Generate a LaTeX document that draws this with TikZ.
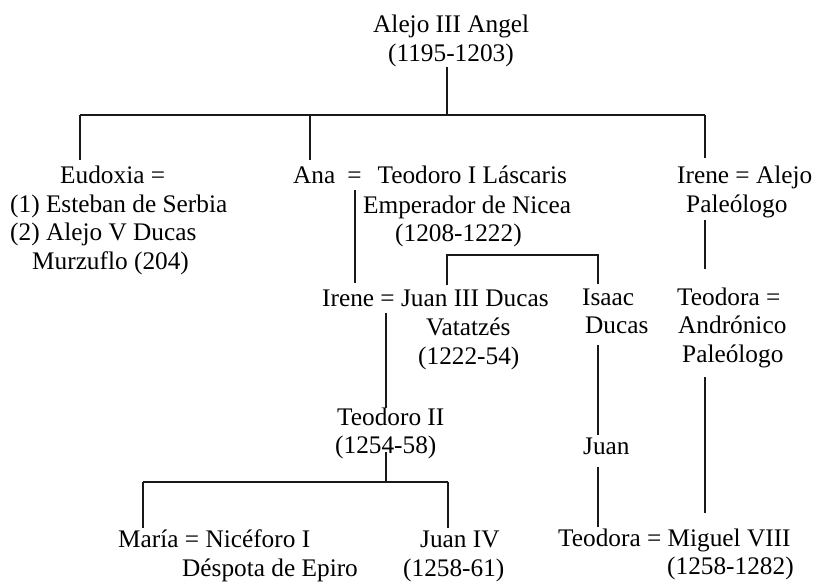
\documentclass[tikz,border=0pt]{standalone}
\usepackage{fontspec}
\setmainfont{Liberation Serif}
\begin{document}
\begin{tikzpicture}[x=1pt,y=-1pt,
  lbl/.style={anchor=base west, inner sep=0pt, font=\fontsize{25.3}{30}\selectfont, text=black},
  link/.style={line width=1.7pt, black!90}]
\useasboundingbox (0,0) rectangle (815,582);
% --- text
\node[lbl] (top1) at (373,32) {Alejo III Angel};
\node[lbl] (top2) at (388,61) {(1195-1203)};
\node[lbl] (eud1) at (60,183) {Eudoxia =};
\node[lbl] (eud2) at (10,212) {(1) Esteban de Serbia};
\node[lbl] (eud3) at (10,240) {(2) Alejo V Ducas};
\node[lbl] (eud4) at (32,269) {Murzuflo (204)};
\node[lbl] (ana1) at (293,183) {Ana\hspace{12pt}=\hspace{16pt}Teodoro I Láscaris};
\node[lbl] (ana2) at (363,213) {Emperador de Nicea};
\node[lbl] (ana3) at (395,241) {(1208-1222)};
\node[lbl] (ire1) at (677,183) {Irene = Alejo};
\node[lbl] (ire2) at (686,212) {Paleólogo};
\node[lbl] (irj1) at (322,306) {Irene = Juan III Ducas};
\node[lbl] (irj2) at (426,335) {Vatatzés};
\node[lbl] (irj3) at (418,364) {(1222-54)};
\node[lbl] (isa1) at (582,305) {Isaac};
\node[lbl] (isa2) at (585,333) {Ducas};
\node[lbl] (teo1) at (677,305) {Teodora =};
\node[lbl] (teo2) at (678,333) {Andrónico};
\node[lbl] (teo3) at (682,362) {Paleólogo};
\node[lbl] (t2a) at (337,425) {Teodoro II};
\node[lbl] (t2b) at (335,453) {(1254-58)};
\node[lbl] (juan) at (583,454) {Juan};
\node[lbl] (mar1) at (118,547) {María = Nicéforo I};
\node[lbl] (mar2) at (182,576) {Déspota de Epiro};
\node[lbl] (jiv1) at (420,547) {Juan IV};
\node[lbl] (jiv2) at (403,576) {(1258-61)};
\node[lbl] (mig1) at (558,546) {Teodora = Miguel VIII};
\node[lbl] (mig2) at (667,574) {(1258-1282)};
% --- connector points
\coordinate (a0) at (447,67);
\coordinate (a1) at (447,115);
\coordinate (bL) at (80,115);
\coordinate (bM) at (310,115);
\coordinate (bR) at (705,115);
\coordinate (dL) at (80,160);
\coordinate (dM) at (310,160);
\coordinate (dR) at (705,158);
\coordinate (an0) at (355,190);
\coordinate (an1) at (355,283);
\coordinate (k0) at (447,285);
\coordinate (k1) at (447,255);
\coordinate (k2) at (598,255);
\coordinate (k3) at (598,284);
\coordinate (p0) at (705,220);
\coordinate (p1) at (705,269);
\coordinate (j0) at (386,313);
\coordinate (j1) at (386,408);
\coordinate (t0) at (386,452);
\coordinate (t1) at (386,482);
\coordinate (tL) at (143,482);
\coordinate (tR) at (448,482);
\coordinate (tL1) at (143,528);
\coordinate (tR1) at (448,528);
\coordinate (s0) at (598,345);
\coordinate (s1) at (598,435);
\coordinate (s2) at (598,467);
\coordinate (s3) at (598,527);
\coordinate (q0) at (705,377);
\coordinate (q1) at (705,513);
% --- connectors
\draw[link] (a0) -- (a1);
\draw[link] (bL) -- (bR);
\draw[link] (bL) -- (dL);
\draw[link] (bM) -- (dM);
\draw[link] (bR) -- (dR);
\draw[link] (an0) -- (an1);
\draw[link] (k0) -- (k1) -- (k2) -- (k3);
\draw[link] (p0) -- (p1);
\draw[link] (j0) -- (j1);
\draw[link] (t0) -- (t1);
\draw[link] (tL) -- (tR);
\draw[link] (tL) -- (tL1);
\draw[link] (tR) -- (tR1);
\draw[link] (s0) -- (s1);
\draw[link] (s2) -- (s3);
\draw[link] (q0) -- (q1);
\end{tikzpicture}
\end{document}
